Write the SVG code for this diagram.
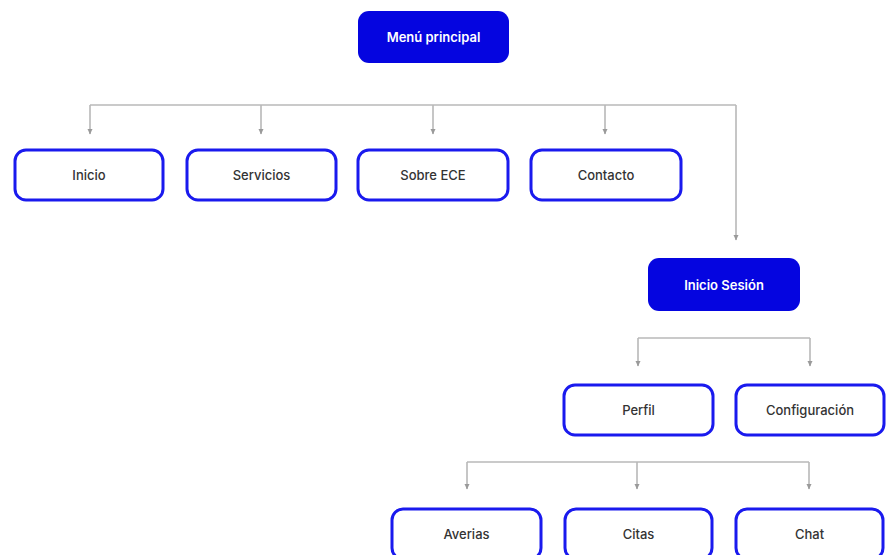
<svg xmlns="http://www.w3.org/2000/svg" width="889" height="555" viewBox="0 0 889 555">
<defs>
<marker id="arr" markerWidth="6" markerHeight="6" refX="5" refY="3" orient="auto" markerUnits="userSpaceOnUse" viewBox="0 0 6 6">
<path d="M0,0.5 L5.5,3 L0,5.5 Z" fill="#9a9a9a"/>
</marker>
<style>
.box{fill:#fff;stroke:#1a1aee;stroke-width:3}
.dark{fill:#0505e0;stroke:none}
.t{font-family:"Inter","Noto Sans",sans-serif;font-size:13px;font-weight:500;fill:#333;text-anchor:middle;dominant-baseline:central}
.tw{font-family:"Inter","Noto Sans",sans-serif;font-size:13px;font-weight:600;fill:#fff;text-anchor:middle;dominant-baseline:central}
.c{fill:none;stroke:#b8b8b8;stroke-width:1.6}
.a{fill:none;stroke:#b8b8b8;stroke-width:1.6;marker-end:url(#arr)}
</style>
</defs>
<rect width="889" height="555" fill="#fff"/>
<g id="connectors">
<path class="c" d="M90,105 H736"/>
<path class="a" d="M90,105 V134"/>
<path class="a" d="M261,105 V134"/>
<path class="a" d="M433,105 V134"/>
<path class="a" d="M605,105 V134"/>
<path class="a" d="M736,105 V240"/>
<path class="c" d="M638,338 H810"/>
<path class="a" d="M638,338 V366"/>
<path class="a" d="M810,338 V366"/>
<path class="c" d="M467,462 H809"/>
<path class="a" d="M467,462 V489"/>
<path class="a" d="M637,462 V489"/>
<path class="a" d="M809,462 V489"/>
</g>
<g id="menu-principal"><rect class="dark" x="358" y="11" width="151" height="52" rx="11"/><text class="tw" x="433.5" y="37">Menú principal</text></g>
<g id="inicio"><rect class="box" x="15" y="150" width="148" height="50" rx="11"/><text class="t" x="89" y="175">Inicio</text></g>
<g id="servicios"><rect class="box" x="187" y="150" width="149" height="50" rx="11"/><text class="t" x="261.5" y="175">Servicios</text></g>
<g id="sobre-ece"><rect class="box" x="358" y="150" width="150" height="50" rx="11"/><text class="t" x="433" y="175">Sobre ECE</text></g>
<g id="contacto"><rect class="box" x="531" y="150" width="150" height="50" rx="11"/><text class="t" x="606" y="175">Contacto</text></g>
<g id="inicio-sesion"><rect class="dark" x="648" y="258" width="152" height="53" rx="11"/><text class="tw" x="724" y="285">Inicio Sesión</text></g>
<g id="perfil"><rect class="box" x="564" y="385" width="149" height="50" rx="11"/><text class="t" x="638.5" y="410">Perfil</text></g>
<g id="configuracion"><rect class="box" x="736" y="385" width="148" height="50" rx="11"/><text class="t" x="810" y="410">Configuración</text></g>
<g id="averias"><rect class="box" x="392" y="509" width="149" height="50" rx="11"/><text class="t" x="466.5" y="534">Averias</text></g>
<g id="citas"><rect class="box" x="565" y="509" width="147" height="50" rx="11"/><text class="t" x="638.5" y="534">Citas</text></g>
<g id="chat"><rect class="box" x="736" y="509" width="147" height="50" rx="11"/><text class="t" x="809.5" y="534">Chat</text></g>
</svg>
